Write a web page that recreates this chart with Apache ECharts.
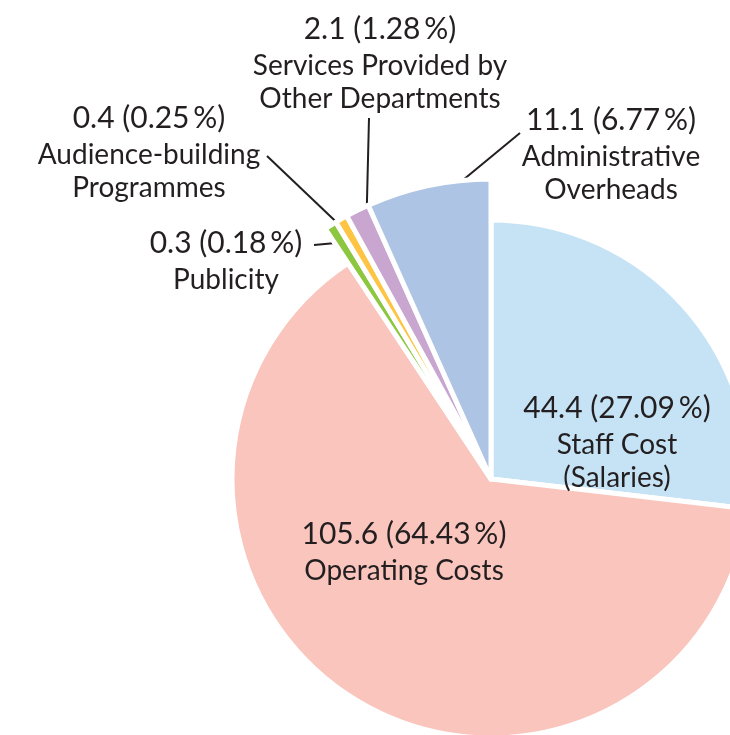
<!DOCTYPE html>
<html>
<head>
<meta charset="utf-8">
<script src="https://cdn.jsdelivr.net/npm/echarts@6/dist/echarts.min.js"></script>
<style>
  html, body { margin: 0; padding: 0; background: #fff; }
  #chart { width: 730px; height: 735px; }
</style>
</head>
<body>
<div id="chart"></div>
<script>
// ---- data ----
const categories = [
  'Staff Cost\n(Salaries)',
  'Operating Costs',
  'Publicity',
  'Audience-building\nProgrammes',
  'Services Provided by\nOther Departments',
  'Administrative\nOverheads',
];
const amounts = [44.4, 105.6, 0.3, 0.4, 2.1, 11.1];
const percents = ['27.09', '64.43', '0.18', '0.25', '1.28', '6.77'];

// ---- look ----
const colors = ['#c6e3f5', '#f9c5bd', '#8dc63f', '#fdc543', '#c8a6cf', '#aec4e4'];
const isMain = [true, true, false, false, false, false];
const labelAt = [[617, 441], [404, 551], [226, 260], [149, 151], [380, 62], [611, 153]];
const lineEnd = [null, null, [314, 245], [267, 156], [369, 118], [520, 133]];
const CX = 491, CY = 479;
const TEXT = '#231f20';
const FONT = 'Lato, "Open Sans", sans-serif';

// one item list per ring; both rings share the same values so the angles line up
function ringData(showMain) {
  return amounts.map((v, i) => {
    const visible = isMain[i] === showMain;
    return {
      name: categories[i],
      value: v,
      itemStyle: visible
        ? { color: colors[i], borderColor: '#fff', borderWidth: 5 }
        : { color: 'transparent', borderWidth: 0 },
      label: showMain ? undefined : (isMain[i] ? { position: 'inside' } : undefined),
      labelLine: { show: !showMain && !isMain[i] },
    };
  });
}

function placeLabel(params) {
  const i = params.dataIndex;
  const out = { x: labelAt[i][0], y: labelAt[i][1], align: 'center', verticalAlign: 'middle' };
  const pts = params.labelLinePoints;
  if (lineEnd[i] && pts && pts.length) {
    // pull the slice end of the leader a little into the slice
    const dx = pts[0][0] - CX, dy = pts[0][1] - CY;
    const d = Math.sqrt(dx * dx + dy * dy);
    const k = (d - 20) / d;
    out.labelLinePoints = [[CX + dx * k, CY + dy * k], lineEnd[i]];
  }
  return out;
}

const chart = echarts.init(document.getElementById('chart'), null, { renderer: 'canvas' });

const common = {
  type: 'pie',
  center: [CX, CY],
  startAngle: 90,
  clockwise: true,
  minAngle: 2.4,
  avoidLabelOverlap: false,
  animation: false,
  emphasis: { disabled: true },
};

chart.setOption({
  backgroundColor: '#fff',
  animation: false,
  series: [
    Object.assign({}, common, {
      name: 'main',
      radius: [0, 259],
      silent: true,
      label: { show: false },
      data: ringData(true),
    }),
    Object.assign({}, common, {
      name: 'outer',
      radius: [0, 300],
      silent: true,
      label: {
        show: true,
        position: 'outside',
        fontFamily: FONT,
        color: TEXT,
        formatter: (p) => {
          const i = p.dataIndex;
          return '{v|' + amounts[i] + ' (' + percents[i] + '\u2009%)}\n{n|' + categories[i] + '}';
        },
        rich: {
          v: { fontFamily: FONT, fontSize: 30, lineHeight: 40, color: TEXT },
          n: { fontFamily: FONT, fontSize: 28, lineHeight: 33, color: TEXT },
        },
      },
      labelLine: { show: true, length: 10, length2: 10, lineStyle: { color: TEXT, width: 2 } },
      labelLayout: placeLabel,
      data: ringData(false),
    }),
  ],
});
</script>
</body>
</html>
